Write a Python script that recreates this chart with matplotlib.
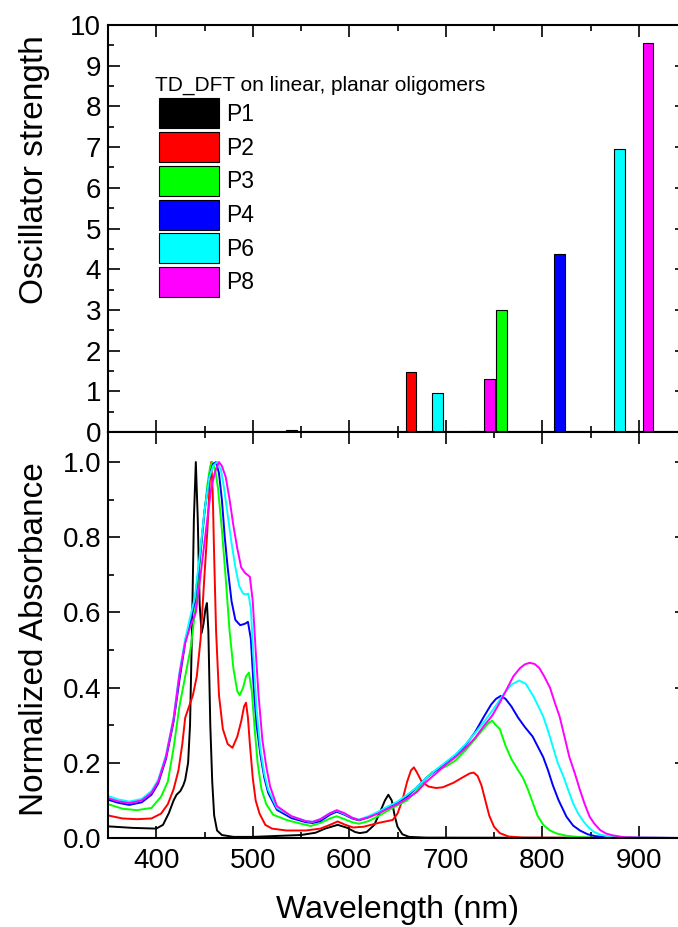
import matplotlib
matplotlib.use("Agg")
import matplotlib.pyplot as plt
from matplotlib.patches import Patch
from matplotlib.ticker import MultipleLocator

plt.rcParams['font.family'] = ['Liberation Sans', 'DejaVu Sans']

# --- TD-DFT oscillator strengths (top panel) ---
bar_names = ["P1", "P2", "P3", "P4", "P6", "P8"]
bar_colors = ["#000000", "#ff0000", "#00ff00", "#0000ff", "#00ffff", "#ff00ff"]
bar_wl = {
    "P1": [540, 730],
    "P2": [664],
    "P3": [757.5],
    "P4": [818],
    "P6": [691.5, 880],
    "P8": [745.5, 909.5],
}
bar_f = {
    "P1": [0.05, 0.02],
    "P2": [1.48],
    "P3": [3.0],
    "P4": [4.37],
    "P6": [0.97, 6.95],
    "P8": [1.30, 9.55],
}

# --- normalized absorbance spectra (bottom panel) ---
wl_P1 = [350, 375, 400, 407, 413, 418, 421, 425, 428, 430, 433, 435, 437, 439, 441, 443, 445, 447, 449,
         451, 452.5, 454, 456, 458, 460, 463, 468, 480, 500, 530, 550, 565, 575, 588, 598, 606, 611, 618,
         626, 632, 637, 640.5, 644, 647, 650, 655, 662, 680, 950]
A_P1 = [0.031, 0.027, 0.025, 0.035, 0.066, 0.1, 0.115, 0.125, 0.14, 0.155, 0.2, 0.3, 0.55, 0.85, 1.0, 0.85,
        0.62, 0.545, 0.57, 0.61, 0.625, 0.55, 0.3, 0.15, 0.06, 0.02, 0.008, 0.003, 0.003, 0.006, 0.008,
        0.014, 0.025, 0.035, 0.027, 0.016, 0.013, 0.016, 0.035, 0.07, 0.1, 0.115, 0.1, 0.06, 0.03, 0.01,
        0.003, 0.001, 0.0]

wl_P2 = [350, 365, 380, 395, 405, 412, 418, 423, 427, 430, 434, 438, 442, 446, 450, 453, 455.5, 457, 458.5,
         460, 462, 465, 469, 474, 479, 484, 488, 491, 493, 495, 497, 500, 503, 507, 513, 520, 535, 555, 570,
         580, 588, 596, 604, 615, 630, 645, 650, 655, 660, 664, 667, 670, 675, 682, 690, 697, 708, 718, 725,
         729, 733, 737, 741, 745, 750, 756, 765, 780, 950]
A_P2 = [0.06, 0.052, 0.05, 0.052, 0.065, 0.09, 0.13, 0.18, 0.25, 0.32, 0.35, 0.38, 0.43, 0.53, 0.7, 0.82,
        0.95, 1.0, 0.92, 0.75, 0.55, 0.38, 0.29, 0.25, 0.24, 0.27, 0.31, 0.35, 0.36, 0.32, 0.25, 0.16, 0.1,
        0.065, 0.035, 0.025, 0.02, 0.02, 0.025, 0.035, 0.044, 0.035, 0.028, 0.03, 0.04, 0.048, 0.065, 0.1,
        0.15, 0.18, 0.188, 0.175, 0.15, 0.137, 0.133, 0.135, 0.147, 0.162, 0.172, 0.174, 0.165, 0.14, 0.1,
        0.06, 0.03, 0.013, 0.004, 0.001, 0.0]

wl_P3 = [350, 365, 380, 395, 405, 412, 418, 424, 430, 436, 441, 445, 449, 453, 456, 458, 461, 464, 468, 472,
         476, 480, 484, 486.5, 490, 493, 496, 499, 502, 505, 509, 514, 521, 535, 550, 560, 570, 580, 587, 595,
         603, 610, 620, 630, 640, 650, 660, 670, 680, 686, 693, 700, 710, 720, 730, 738, 744, 748, 752, 756,
         762, 768, 775, 780, 785, 790, 795, 801, 808, 815, 825, 840, 860, 950]
A_P3 = [0.09, 0.078, 0.074, 0.08, 0.11, 0.15, 0.24, 0.35, 0.43, 0.51, 0.62, 0.73, 0.84, 0.94, 0.99, 1.0,
        0.98, 0.93, 0.82, 0.69, 0.55, 0.45, 0.39, 0.38, 0.4, 0.43, 0.44, 0.39, 0.29, 0.2, 0.13, 0.09, 0.062,
        0.048, 0.038, 0.032, 0.04, 0.052, 0.058, 0.05, 0.042, 0.038, 0.045, 0.058, 0.073, 0.087, 0.1, 0.126,
        0.16, 0.175, 0.182, 0.19, 0.206, 0.232, 0.262, 0.287, 0.305, 0.312, 0.3, 0.29, 0.245, 0.21, 0.18,
        0.16, 0.13, 0.095, 0.06, 0.035, 0.02, 0.012, 0.006, 0.002, 0.001, 0.0]

wl_P4 = [350, 360, 372, 385, 395, 402, 410, 418, 424, 430, 435, 440, 445, 450, 455, 459, 462, 465, 468, 471,
         474, 478, 482, 487, 492, 495, 498, 501, 504, 508, 512, 516, 525, 540, 555, 562, 570, 580, 587, 595,
         603, 610, 620, 630, 640, 650, 660, 670, 680, 690, 700, 710, 720, 730, 740, 747, 752, 757, 762, 768,
         775, 782, 790, 796, 801, 806, 811, 817, 825, 832, 839, 847, 855, 870, 950]
A_P4 = [0.102, 0.094, 0.088, 0.095, 0.115, 0.145, 0.21, 0.31, 0.42, 0.52, 0.57, 0.63, 0.74, 0.87, 0.96,
        0.995, 1.0, 0.97, 0.9, 0.8, 0.72, 0.63, 0.58, 0.566, 0.57, 0.575, 0.53, 0.4, 0.3, 0.22, 0.16, 0.12,
        0.075, 0.053, 0.042, 0.04, 0.045, 0.062, 0.07, 0.062, 0.052, 0.047, 0.055, 0.068, 0.082, 0.095, 0.11,
        0.135, 0.16, 0.18, 0.2, 0.22, 0.245, 0.28, 0.325, 0.355, 0.37, 0.378, 0.37, 0.35, 0.32, 0.295, 0.27,
        0.24, 0.215, 0.18, 0.14, 0.1, 0.057, 0.033, 0.02, 0.01, 0.005, 0.001, 0.0]

wl_P6 = [350, 360, 372, 385, 395, 402, 410, 418, 424, 430, 435, 440, 445, 450, 455, 459, 463, 467, 470, 474,
         478, 482, 486, 490, 493, 495.5, 498, 501, 504, 508, 512, 516, 525, 540, 555, 562, 570, 580, 587, 595,
         603, 610, 620, 630, 640, 650, 660, 670, 680, 690, 700, 710, 720, 730, 740, 750, 760, 768, 776, 783,
         791, 796, 801, 806, 811, 816, 822, 827, 832, 837, 843, 848, 853, 860, 867, 880, 950]
A_P6 = [0.112, 0.103, 0.097, 0.104, 0.125, 0.155, 0.22, 0.32, 0.44, 0.53, 0.585, 0.64, 0.75, 0.87, 0.96,
        0.99, 1.0, 0.98, 0.935, 0.86, 0.785, 0.72, 0.67, 0.65, 0.648, 0.65, 0.61, 0.47, 0.34, 0.235, 0.17,
        0.128, 0.08, 0.058, 0.045, 0.043, 0.05, 0.066, 0.073, 0.064, 0.054, 0.049, 0.058, 0.07, 0.084, 0.097,
        0.115, 0.135, 0.16, 0.182, 0.202, 0.222, 0.248, 0.278, 0.31, 0.345, 0.383, 0.408, 0.419, 0.41, 0.376,
        0.35, 0.323, 0.285, 0.243, 0.2, 0.163, 0.127, 0.092, 0.066, 0.043, 0.028, 0.017, 0.009, 0.005, 0.001,
        0.0]

wl_P8 = [350, 360, 372, 385, 395, 402, 410, 418, 424, 430, 435, 441, 445, 449, 453, 457, 461, 465, 468, 472,
         476, 480, 484, 488, 492, 497, 500, 503, 506, 510, 514, 518, 525, 540, 555, 562, 570, 580, 587, 595,
         603, 610, 620, 630, 640, 650, 660, 670, 680, 690, 700, 710, 720, 730, 740, 748, 756, 763, 770, 777,
         782, 787, 792, 797, 802, 808, 813, 818, 823, 828, 834, 839, 844, 849, 854, 860, 866, 873, 885, 900,
         950]
A_P8 = [0.106, 0.098, 0.093, 0.1, 0.12, 0.15, 0.215, 0.318, 0.434, 0.52, 0.56, 0.6, 0.68, 0.765, 0.85, 0.93,
        0.975, 1.0, 0.99, 0.96, 0.9, 0.83, 0.77, 0.72, 0.705, 0.695, 0.63, 0.5, 0.38, 0.26, 0.19, 0.137, 0.085,
        0.058, 0.045, 0.043, 0.05, 0.066, 0.074, 0.066, 0.054, 0.048, 0.055, 0.065, 0.078, 0.09, 0.105, 0.122,
        0.15, 0.172, 0.195, 0.215, 0.238, 0.265, 0.3, 0.325, 0.36, 0.395, 0.43, 0.452, 0.462, 0.466, 0.463,
        0.452, 0.43, 0.4, 0.36, 0.323, 0.27, 0.216, 0.17, 0.128, 0.09, 0.057, 0.038, 0.021, 0.012, 0.007,
        0.002, 0.001, 0.0]

spectra = {"P1": (wl_P1, A_P1), "P2": (wl_P2, A_P2), "P3": (wl_P3, A_P3),
           "P4": (wl_P4, A_P4), "P6": (wl_P6, A_P6), "P8": (wl_P8, A_P8)}

fig = plt.figure(figsize=(6.78, 9.27), dpi=100)
ax1 = fig.add_axes([0.1593, 0.534, 0.854, 0.439])
ax2 = fig.add_axes([0.1593, 0.096, 0.854, 0.438], sharex=ax1)

for name, col in zip(bar_names, bar_colors):
    ax1.bar(bar_wl[name], bar_f[name], width=11, color=col, edgecolor="black", linewidth=0.8, zorder=3)
    wl, A = spectra[name]
    ax2.plot(wl, A, color=col, lw=1.4)

ax1.set_xlim(350, 950)
ax1.set_ylim(0, 10)
ax2.set_ylim(0, 1.08)

ax1.yaxis.set_major_locator(MultipleLocator(1))
ax1.yaxis.set_minor_locator(MultipleLocator(0.5))
ax2.yaxis.set_major_locator(MultipleLocator(0.2))
ax2.yaxis.set_minor_locator(MultipleLocator(0.1))
ax2.xaxis.set_major_locator(MultipleLocator(100))
ax2.xaxis.set_minor_locator(MultipleLocator(50))
ax2.yaxis.set_major_formatter(plt.FormatStrFormatter("%.1f"))

for ax in (ax1, ax2):
    ax.tick_params(which="both", direction="in", top=True, right=True, width=1.2, labelsize=20)
    ax.tick_params(which="major", length=8.5)
    ax.tick_params(which="minor", length=4.5)
    ax.tick_params(axis="y", pad=5)
    for s in ax.spines.values():
        s.set_linewidth(1.5)
ax1.tick_params(axis="x", labelbottom=False)
ax2.tick_params(axis="x", pad=7)

ax1.set_ylabel("Oscillator strength", fontsize=24)
ax1.yaxis.set_label_coords(-0.1, 0.645)
ax2.set_ylabel("Normalized Absorbance", fontsize=24)
ax2.yaxis.set_label_coords(-0.1, 0.49)
ax2.set_xlabel("Wavelength (nm)", fontsize=23, labelpad=15)

handles = [Patch(facecolor=c, edgecolor="black", linewidth=0.8) for c in bar_colors]
leg = ax1.legend(handles, bar_names, title="TD_DFT on linear, planar oligomers", loc="upper left",
                 bbox_to_anchor=(0.088, 0.876), frameon=False, fontsize=16.5, title_fontsize=15,
                 borderpad=0, borderaxespad=0, handlelength=2.62, handleheight=1.64,
                 handletextpad=0.3, labelspacing=0.16, alignment="left")
leg.get_title().set_x(-4)

fig.savefig("out.png", dpi=100)
